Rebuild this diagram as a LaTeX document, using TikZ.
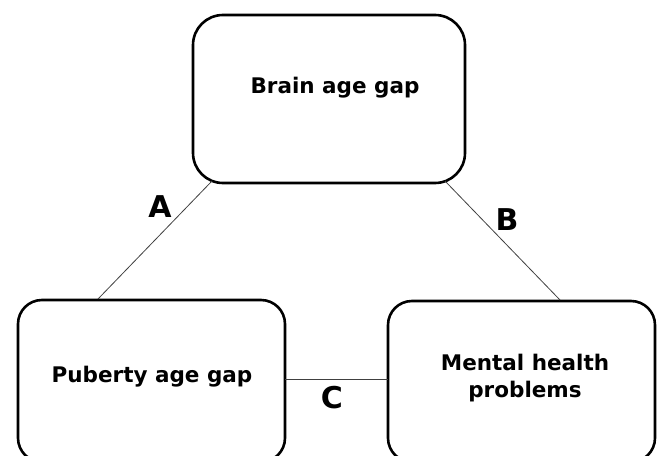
\documentclass[tikz,border=0pt]{standalone}
\usepackage{fontspec}
\setmainfont{DejaVu Sans}
\begin{document}
\begin{tikzpicture}[x=1pt,y=-1pt,
  box/.style={draw=black,line width=2.6pt,rounded corners=#1},
  link/.style={draw=black!75,line width=0.8pt},
  lbl/.style={font=\bfseries\fontsize{21.5}{27}\selectfont,align=center},
  letter/.style={font=\bfseries\fontsize{30}{34}\selectfont}]
\useasboundingbox (0,0) rectangle (658,455);
\clip (0,0) rectangle (658,455);
% boxes
\draw[box=30pt] (193,15) rectangle (465,183);
\draw[box=24pt] (18,300) rectangle (285,462);
\draw[box=24pt] (388,301) rectangle (655,462);
\coordinate (topbl) at (212,181);
\coordinate (topbr) at (445,181);
\coordinate (leftt) at (98,299);
\coordinate (rightt) at (560,300);
\coordinate (leftr) at (285,379);
\coordinate (rightl) at (388,379);
\node[lbl] (brain) at (335,88) {Brain age gap};
\node[lbl] (puberty) at (152,377) {Puberty age gap};
\node[lbl] (mental) at (525,378) {Mental health\\problems};
\draw[link] (topbl) -- (leftt);
\draw[link] (topbr) -- (rightt);
\draw[link] (leftr) -- (rightl);
\node[letter] (A) at (160,207) {A};
\node[letter] (B) at (507,220) {B};
\node[letter] (C) at (332,398) {C};
\end{tikzpicture}
\end{document}
